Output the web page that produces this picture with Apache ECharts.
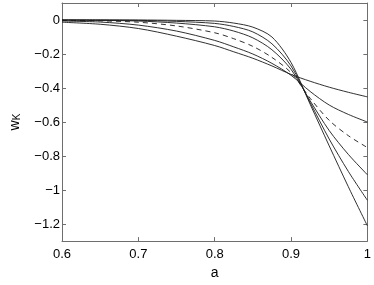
<!DOCTYPE html>
<html>
<head>
    <meta charset="utf-8">
    <title>w_K</title>
    <script src="https://cdn.jsdelivr.net/npm/echarts@6/dist/echarts.min.js"></script>
</head>
<body style="margin:0">
<style type="text/css">
#chart{width: 374px; height: 285px;}
</style>
    <div id="chart"></div>
    <script type="text/javascript">
        // scale factor a
        var aVals = [0.6, 0.65, 0.7, 0.75, 0.8, 0.825, 0.85, 0.875, 0.9, 0.925, 0.95, 0.975, 1.0];
        // the six curves, flattest first (end value at a=1 from -0.45 to -1.21)
        var wA = [-0.013, -0.025, -0.05, -0.095, -0.15, -0.187, -0.225, -0.27, -0.32, -0.36, -0.395, -0.425, -0.452];
        var wB = [-0.006, -0.012, -0.03, -0.065, -0.12, -0.158, -0.2, -0.255, -0.325, -0.42, -0.50, -0.555, -0.60];
        var wC = [-0.002, -0.005, -0.013, -0.035, -0.075, -0.11, -0.155, -0.22, -0.31, -0.46, -0.59, -0.68, -0.75]; // dashed
        var wD = [0, -0.002, -0.006, -0.018, -0.04, -0.065, -0.105, -0.175, -0.29, -0.475, -0.65, -0.79, -0.91];
        var wE = [0, 0, -0.002, -0.008, -0.02, -0.038, -0.07, -0.14, -0.27, -0.485, -0.70, -0.89, -1.06];
        var wF = [0, 0, 0, -0.002, -0.006, -0.018, -0.042, -0.10, -0.25, -0.495, -0.74, -0.98, -1.21];
        var yTicks = [-1.2, -1, -0.8, -0.6, -0.4, -0.2, 0];
        var xTicks = [0.6, 0.7, 0.8, 0.9, 1];

        var font = 'Liberation Sans, Arial, sans-serif';

        function pts(w) {
            return aVals.map(function (a, i) { return [a, w[i]]; });
        }
        function curve(w, dashed) {
            return {
                type: 'line',
                data: pts(w),
                smooth: 0.3,
                showSymbol: false,
                silent: true,
                lineStyle: {color: '#1a1a1a', width: 0.9, type: dashed ? [5, 4] : 'solid'}
            };
        }
        function yLabel(v) {
            if (v === 0) return '0';
            return '\u2212' + Math.abs(v);
        }

        var boxLine = {show: true, onZero: false, lineStyle: {color: '#6e6e6e', width: 1}};
        var tick = {show: true, inside: true, length: 4, lineStyle: {color: '#6e6e6e'}};

        var chart = echarts.init(document.getElementById('chart'));
        chart.setOption({
            animation: false,
            grid: {left: 52.5, right: 6.5, top: 3, bottom: 35},
            xAxis: [{
                type: 'value', min: 0.6, max: 1, position: 'bottom',
                axisLine: boxLine,
                axisTick: Object.assign({customValues: xTicks}, tick),
                splitLine: {show: false},
                axisLabel: {customValues: xTicks, color: '#000', fontFamily: font, fontSize: 13, margin: 7,
                    formatter: function (v) { return String(v); }},
                name: 'a', nameLocation: 'middle', nameGap: 14,
                nameTextStyle: {color: '#000', fontFamily: font, fontSize: 14}
            }, {
                type: 'value', min: 0.6, max: 1, position: 'top',
                axisLine: boxLine,
                axisTick: Object.assign({customValues: xTicks}, tick),
                splitLine: {show: false},
                axisLabel: {show: false}
            }],
            yAxis: [{
                type: 'value', min: -1.3, max: 0.1, position: 'left',
                axisLine: boxLine,
                axisTick: Object.assign({customValues: yTicks}, tick),
                splitLine: {show: false},
                axisLabel: {customValues: yTicks, color: '#000', fontFamily: font, fontSize: 13, margin: 2,
                    formatter: yLabel},
                name: '{w|w}{k|K}', nameLocation: 'middle', nameGap: 40,
                nameTextStyle: {
                    color: '#000', fontFamily: font,
                    rich: {
                        w: {fontSize: 14, fontFamily: font, color: '#000', verticalAlign: 'bottom', lineHeight: 15},
                        k: {fontSize: 10, fontFamily: font, color: '#000', verticalAlign: 'bottom', lineHeight: 1}
                    }
                }
            }, {
                type: 'value', min: -1.3, max: 0.1, position: 'right',
                axisLine: boxLine,
                axisTick: Object.assign({customValues: yTicks}, tick),
                splitLine: {show: false},
                axisLabel: {show: false}
            }],
            series: [curve(wA), curve(wB), curve(wC, true), curve(wD), curve(wE), curve(wF)]
        });
    </script>
</body>
</html>
